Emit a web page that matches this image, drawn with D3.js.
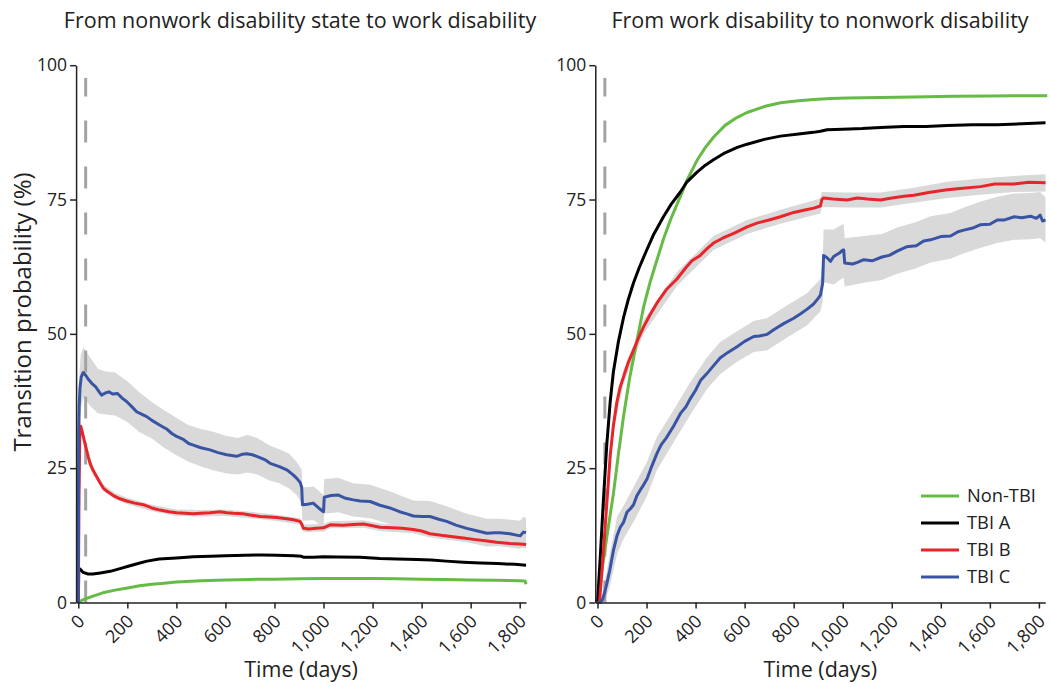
<!DOCTYPE html>
<html><head><meta charset="utf-8">
<script src="https://cdn.jsdelivr.net/npm/d3@7"></script>
<style>
body{margin:0;background:#fff}
text{font-family:"Open Sans",sans-serif;fill:#222}
</style>
</head><body>
<svg id="c" width="1050" height="687"></svg>
<script>
// ---------- data ----------
const seriesNames = ["Non-TBI", "TBI A", "TBI B", "TBI C"];
const seriesColors = ["#66bb46", "#000000", "#e8252a", "#3a54a4"];
const xTicks = [0, 200, 400, 600, 800, 1000, 1200, 1400, 1600, 1800];
const yTicks = [0, 25, 50, 75, 100];
const cutoffDay = 30;
const titles = ["From nonwork disability state to work disability", "From work disability to nonwork disability"];

// Left panel: nonwork disability -> work disability  [day, %]
const leftNonTBI = [[0,0],[10,0.3],[30,0.7],[60,1.2],[100,1.8],[150,2.3],[200,2.7],[250,3.1],[300,3.4],[350,3.6],[400,3.8],[500,4.05],[600,4.2],[700,4.3],[800,4.35],[900,4.4],[1000,4.45],[1100,4.45],[1200,4.45],[1300,4.4],[1400,4.35],[1500,4.3],[1600,4.2],[1700,4.15],[1800,4.05],[1822,4.0],[1826,3.4]];
const leftTBIA = [[0,0],[2,6.0],[8,6.2],[20,5.6],[40,5.3],[60,5.3],[90,5.5],[130,5.8],[170,6.3],[200,6.7],[240,7.2],[280,7.7],[330,8.1],[400,8.3],[470,8.5],[540,8.6],[600,8.7],[680,8.8],[750,8.85],[810,8.8],[880,8.7],[910,8.6],[920,8.4],[960,8.4],[1000,8.5],[1060,8.45],[1150,8.4],[1230,8.2],[1300,8.1],[1380,8.0],[1440,7.9],[1500,7.7],[1570,7.5],[1640,7.35],[1710,7.25],[1780,7.1],[1826,6.95]];
const leftTBIB = [[0,0],[3,20],[6,31],[10,32.8],[15,32],[27,29.6],[40,27.2],[48,25.9],[60,24.6],[75,23.4],[90,22.2],[102,21.3],[120,20.6],[143,19.9],[170,19.3],[197,18.9],[230,18.5],[265,18.2],[300,17.6],[333,17.2],[370,16.9],[401,16.7],[435,16.6],[469,16.5],[500,16.6],[537,16.7],[578,16.9],[605,16.7],[632,16.6],[670,16.5],[700,16.3],[741,16.0],[780,15.9],[809,15.8],[850,15.6],[877,15.4],[904,15.1],[911,14.6],[918,13.8],[940,13.7],[970,13.8],[1000,13.9],[1027,14.45],[1080,14.4],[1120,14.5],[1163,14.6],[1200,14.3],[1230,14.0],[1280,13.9],[1320,13.8],[1366,13.6],[1400,13.3],[1434,12.8],[1480,12.5],[1520,12.3],[1570,12.0],[1620,11.7],[1660,11.5],[1706,11.2],[1760,11.0],[1800,10.9],[1826,10.8]];
const leftTBIC = [[0,0],[1,20],[2,32],[4,37],[7,40],[12,42],[20,42.8],[30,42.3],[40,41.6],[55,40.8],[70,40.2],[85,39.2],[95,38.6],[110,39.0],[125,39.2],[140,38.8],[160,38.9],[180,38.0],[197,37.4],[215,36.6],[238,35.5],[260,35.0],[279,34.6],[300,33.9],[333,33.0],[360,32.3],[380,31.5],[401,30.9],[430,30.3],[450,29.6],[469,29.3],[500,28.8],[537,28.4],[570,27.9],[605,27.5],[646,27.2],[670,27.6],[687,27.7],[710,27.5],[728,27.2],[760,26.6],[782,25.9],[820,25.3],[850,24.7],[875,23.8],[891,23.1],[905,22.3],[911,21.4],[914,18.2],[935,18.3],[958,18.5],[980,17.6],[1000,16.9],[1003,19.6],[1030,19.9],[1061,20.0],[1090,19.4],[1122,19.1],[1150,18.9],[1190,18.8],[1230,18.1],[1271,17.6],[1310,16.9],[1340,16.5],[1366,16.1],[1400,16.0],[1434,16.0],[1470,15.5],[1502,15.1],[1540,14.4],[1584,13.8],[1620,13.4],[1666,12.9],[1700,13.0],[1720,13.0],[1760,12.8],[1802,12.4],[1815,13.1],[1826,13.0]];
// confidence bands [day, lower, upper]
const leftTBIBci = [[10,32,33.6],[30,28.4,30],[60,23.9,25.3],[100,20.8,22],[150,19.2,20.4],[200,18.3,19.5],[300,17,18.2],[400,16.1,17.3],[500,16,17.2],[600,16.1,17.3],[700,15.7,16.9],[800,15.2,16.4],[904,14.5,15.7],[911,14,15.2],[918,13.1,14.5],[1000,13.2,14.6],[1027,13.8,15.1],[1163,13.9,15.3],[1230,13.3,14.7],[1366,12.9,14.3],[1434,12.1,13.5],[1570,11.3,12.7],[1706,10.5,11.9],[1826,10.1,11.5]];
const leftTBICci = [[0,0,0],[2,30,38],[5,33,43],[10,36,46],[20,38,47.5],[30,37.8,46.8],[50,36.5,45.5],[80,35.2,43.5],[110,35,43],[150,34.8,42.8],[200,33.6,41.2],[250,31.7,39.1],[300,30.5,37.3],[350,28.8,35.8],[400,27.4,34.4],[450,26.2,33],[500,25.3,32.3],[550,24.6,31.8],[605,24,31],[650,23.8,30.6],[690,24.2,31.2],[730,23.8,30.6],[780,22.7,29.2],[820,22.2,28.5],[860,21.2,27.7],[890,20,26.2],[911,18.5,24.7],[914,15.2,21.4],[960,15.3,21.6],[1000,14,20],[1003,16.5,23],[1060,16.8,23.2],[1120,16,22.2],[1190,15.7,21.9],[1270,14.6,20.7],[1366,13.2,19],[1434,13.1,18.9],[1502,12.3,17.9],[1584,11.2,16.5],[1666,10.4,15.6],[1720,10.5,15.6],[1802,10.0,15.2],[1815,10.4,16.0],[1826,10.4,15.7]];

// Right panel: work disability -> nonwork disability
const rightNonTBI = [[0,0],[20,6.6],[40,12.8],[65,20.3],[85,27.5],[106,34.6],[130,41.5],[161,48.8],[188,55],[215,59.7],[242,63.7],[270,67.8],[300,71.5],[338,75.6],[365,78.6],[406,82.3],[440,84.7],[473,86.6],[520,88.8],[570,90.3],[610,91.2],[680,92.3],[746,93],[820,93.4],[882,93.6],[950,93.8],[1018,93.9],[1150,94],[1290,94.1],[1450,94.2],[1600,94.25],[1700,94.3],[1834,94.3]];
const rightTBIA = [[0,0],[12,9],[24,19],[38,29.5],[52,37.5],[65,43],[85,48.5],[106,53],[125,56.3],[147,59.5],[170,62.3],[195,65.0],[230,68.6],[269,71.8],[300,74.1],[338,76.4],[365,78.3],[406,80.1],[440,81.4],[473,82.4],[520,83.7],[570,84.7],[610,85.3],[680,86.2],[746,86.8],[820,87.2],[880,87.5],[909,87.7],[936,88.0],[1000,88.1],[1080,88.2],[1154,88.4],[1250,88.6],[1340,88.6],[1426,88.8],[1530,88.9],[1630,88.9],[1730,89.1],[1827,89.3]];
const rightTBIB = [[0,0],[8,0],[15,4],[31,14],[42,21],[52,27.5],[65,33],[79,37.3],[92,40],[106,42],[125,44.6],[147,47],[168,49.3],[188,51.3],[215,53.6],[242,55.7],[280,58.2],[324,60.2],[360,62.3],[385,63.6],[419,64.6],[450,66],[473,66.9],[510,67.8],[560,68.8],[610,69.9],[650,70.6],[700,71.2],[746,71.8],[800,72.6],[850,73.1],[882,73.4],[909,73.8],[915,75.0],[922,75.3],[960,75.1],[1018,74.9],[1060,75.3],[1100,75.1],[1154,74.9],[1200,75.3],[1250,75.6],[1290,75.8],[1350,76.3],[1426,76.8],[1490,77.1],[1562,77.4],[1620,77.9],[1698,77.9],[1760,78.2],[1827,78.1]];
const rightTBIC = [[0,0],[12,0],[20,0.5],[30,2],[38,3.5],[50,6],[65,9.7],[80,12.5],[93,14],[106,14.9],[120,16.8],[135,17.5],[147,18.2],[160,19.8],[174,20.9],[188,21.9],[202,23],[220,25.2],[242,27.7],[260,29.4],[280,30.6],[310,32.8],[340,35.3],[360,36.4],[378,37.9],[400,39.5],[420,41.3],[446,42.6],[470,43.9],[500,45.5],[530,46.5],[569,47.6],[600,48.6],[637,49.5],[660,49.6],[691,49.9],[720,50.8],[759,51.9],[800,52.9],[830,53.8],[855,54.6],[880,55.5],[900,56.6],[909,57.2],[918,59.4],[922,64.6],[935,64.2],[950,63.5],[963,64.4],[985,65],[1000,65.6],[1004,65.6],[1008,63.2],[1040,63.0],[1060,63.3],[1086,63.8],[1120,63.6],[1160,64.3],[1190,64.6],[1222,65.4],[1260,66.2],[1300,66.4],[1330,67.3],[1358,67.5],[1400,68.1],[1440,68.2],[1470,69.0],[1494,69.3],[1530,69.7],[1560,70.3],[1600,70.4],[1630,71.2],[1660,71.2],[1700,71.8],[1730,71.6],[1766,71.9],[1790,71.5],[1805,72.1],[1815,71.0],[1827,71.2]];
const rightTBIBci = [[8,0,0],[31,13,15],[65,31.8,34.2],[106,40.7,43.3],[188,50,52.6],[324,58.9,61.5],[473,65.6,68.2],[610,68.6,71.2],[746,70.5,73.1],[909,72.4,75.2],[915,73.6,76.4],[1018,73.5,76.3],[1154,73.5,76.3],[1290,74.4,77.2],[1426,75.3,78.3],[1562,75.9,78.9],[1698,76.4,79.4],[1827,76.5,79.7]];
const rightTBICci = [[12,0,0],[30,0.2,4],[50,3,9],[80,9,16],[106,11.8,18],[147,15,21.5],[202,19.8,26.2],[242,24.6,30.8],[310,29.8,35.8],[378,34.9,41],[446,39.7,45.6],[500,42.5,48.5],[569,44.8,50.5],[637,46.6,52.4],[691,46.9,52.9],[759,48.9,54.9],[855,51.6,57.6],[909,54.2,60.2],[918,55.9,63],[922,59.6,69.4],[963,59.2,69.4],[1000,60.4,70.4],[1004,60.4,70.4],[1008,58.8,67.8],[1086,59.5,68.2],[1160,60,68.6],[1222,61.2,69.8],[1300,62.2,70.8],[1358,63.3,71.9],[1440,64,72.5],[1494,65,73.5],[1560,66,74.6],[1630,66.9,75.5],[1700,67.5,76.1],[1766,67.6,76.2],[1805,67.8,76.4],[1827,67,75.4]];

// ---------- drawing ----------
const svg = d3.select("#c");
svg.append("rect").attr("width",1050).attr("height",687).attr("fill","#fff");
const pxPerDay = 441.4/1800;
const yTop = 65.2, yBot = 602.5;

function panel(cfg) {
  const x0 = cfg.zeroX;
  const x = d3.scaleLinear().domain([-9, 1826]).range([x0 - 9*pxPerDay, x0 + 1826*pxPerDay]);
  const y = d3.scaleLinear().domain([0, 100]).range([yBot, yTop]);
  const g = svg.append("g");

  const area = d3.area().x(d => x(d[0])).y0(d => y(d[1])).y1(d => y(d[2]));
  cfg.bands.forEach(b => g.append("path").attr("d", area(b)).attr("fill", "#d9d9d9").attr("stroke","none"));

  g.append("line").attr("x1", x(cutoffDay)).attr("x2", x(cutoffDay))
    .attr("y1", y(0)).attr("y2", y(97.6))
    .attr("stroke", "#a3a3a3").attr("stroke-width", 3).attr("stroke-dasharray", "22,24");

  const line = d3.line().x(d => x(d[0])).y(d => y(d[1]));
  cfg.series.forEach((s, i) => g.append("path").attr("d", line(s)).attr("fill","none")
    .attr("stroke", seriesColors[i]).attr("stroke-width", 3).attr("stroke-linejoin","round"));

  const yAxis = d3.axisLeft(y).tickValues(yTicks).tickSize(6).tickPadding(3).tickSizeOuter(0);
  const ya = g.append("g").attr("transform", `translate(${x.range()[0]},0)`).call(yAxis);
  ya.select(".domain").attr("stroke","#222").attr("stroke-width",1.5);
  ya.selectAll(".tick line").attr("stroke","#222").attr("stroke-width",1.5);
  ya.selectAll(".tick text").attr("font-size",17.5).attr("fill","#222").attr("font-family","Open Sans");

  const xAxis = d3.axisBottom(x).tickValues(xTicks).tickSize(6).tickSizeOuter(0).tickFormat(d3.format(","));
  const xa = g.append("g").attr("transform", `translate(0,${yBot})`).call(xAxis);
  xa.select(".domain").attr("stroke","#222").attr("stroke-width",1.5);
  xa.selectAll(".tick line").attr("stroke","#222").attr("stroke-width",1.5);
  xa.selectAll(".tick text").attr("font-size",18).attr("fill","#222").attr("font-family","Open Sans")
    .attr("text-anchor","end").attr("dy",0).attr("y",0)
    .attr("transform","translate(7,20) rotate(-45)");

  svg.append("text").attr("x", cfg.titleX).attr("y", 28).attr("text-anchor","middle")
    .attr("font-size", 21.5).text(cfg.title);
  svg.append("text").attr("x", (x.range()[0]+x.range()[1])/2).attr("y", 677).attr("text-anchor","middle")
    .attr("font-size", 21.5).text("Time (days)");
  return {x, y};
}

panel({zeroX: 78.3, title: titles[0], titleX: 300,
  series: [leftNonTBI, leftTBIA, leftTBIB, leftTBIC], bands: [leftTBICci, leftTBIBci]});
panel({zeroX: 597.5, title: titles[1], titleX: 820,
  series: [rightNonTBI, rightTBIA, rightTBIB, rightTBIC], bands: [rightTBICci, rightTBIBci]});

svg.append("text").attr("transform","translate(31,312) rotate(-90)").attr("text-anchor","middle")
  .attr("font-size", 24).text("Transition probability (%)");

const lg = svg.append("g").attr("transform","translate(921,496)");
seriesNames.forEach((n, i) => {
  const row = lg.append("g").attr("transform", `translate(0,${i*27})`);
  row.append("line").attr("x1",0).attr("x2",38).attr("stroke",seriesColors[i]).attr("stroke-width",3);
  row.append("text").attr("x",46).attr("y",0).attr("dy","0.35em").attr("font-size",18.3).text(n);
});
</script>
</body></html>
